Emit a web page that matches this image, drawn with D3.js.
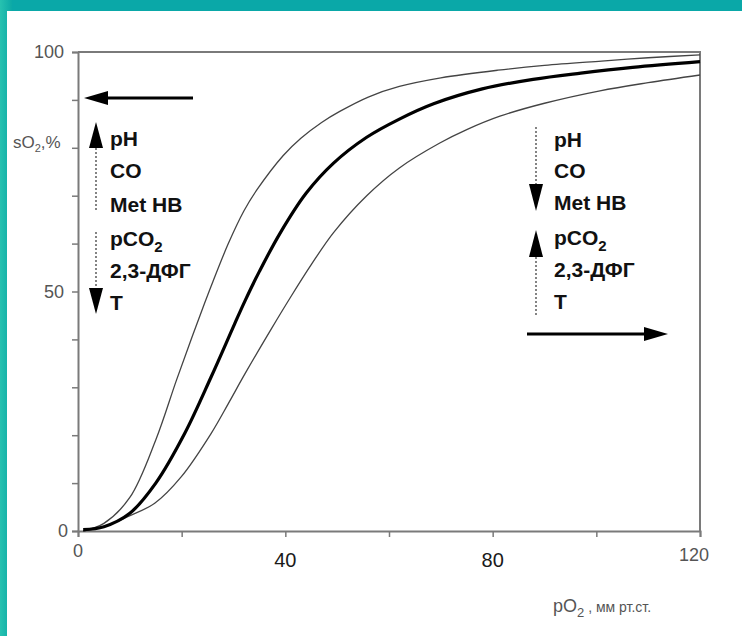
<!DOCTYPE html>
<html>
<head>
<meta charset="utf-8">
<script src="https://cdn.jsdelivr.net/npm/d3@7"></script>
<style>
  html, body { margin: 0; padding: 0; background: #0aa8a8; }
  svg { display: block; font-family: "Liberation Sans", Arial, sans-serif; }
</style>
</head>
<body>
<svg id="chart" width="742" height="636"></svg>
<script>
// oxyhemoglobin dissociation curves
var leftPO2 = [1, 5, 10, 15, 19, 22, 24.4, 26, 29, 32, 34.5, 39.6, 43, 47, 50.5, 56, 62, 70, 81, 90, 101, 110, 120];
var leftSO2 = [0, 1.6, 7, 19, 31.5, 40.5, 47.5, 52, 60, 66.8, 71.2, 78.4, 82, 85.3, 87.6, 90.6, 92.8, 94.6, 96.2, 97.2, 98.1, 98.8, 99.4];

var normPO2 = [1, 5, 10, 15, 20.6, 25.7, 30.2, 32.2, 35, 39, 44, 49.3, 55.7, 62, 68.6, 78, 87.8, 97, 107, 120];
var normSO2 = [0.3, 0.9, 3.7, 10, 20.4, 32.2, 43.2, 48, 54.2, 62.2, 70.5, 76.8, 82.2, 86, 89.2, 92.3, 94.3, 95.6, 96.8, 98];

var rightPO2 = [1, 5, 9.6, 14.8, 19.9, 25.7, 29, 32.2, 37.3, 41, 45, 49.3, 55.7, 62, 69.8, 75, 81.4, 90, 100.7, 110, 120];
var rightSO2 = [0, 0.9, 3, 5.8, 11.3, 20.4, 26.6, 32.8, 42.2, 48.8, 55.6, 62.3, 70, 75.8, 81, 83.8, 86.6, 89.3, 91.9, 93.6, 95.2];

var xTicks = [0, 20, 40, 60, 80, 100, 120];
var xLabels = [0, 40, 80, 120];
var yTicks = [0, 10, 20, 30, 40, 50, 60, 70, 80, 90, 100];
var yLabels = [0, 50, 100];

var factors = ['pH', 'CO', 'Met HB', 'pCO2', '2,3-ДФГ', 'T'];

var svg = d3.select('#chart');

// background: teal frame and white sheet
var defs = svg.append('defs');
var grad = defs.append('linearGradient').attr('id', 'edge')
  .attr('x1', 0).attr('x2', 1).attr('y1', 0).attr('y2', 0);
grad.append('stop').attr('offset', '0%').attr('stop-color', '#27c2b0');
grad.append('stop').attr('offset', '100%').attr('stop-color', '#0ca9a6');

svg.append('rect').attr('width', 742).attr('height', 636).attr('fill', '#0aa8a8');
svg.append('rect').attr('width', 12).attr('height', 636).attr('fill', 'url(#edge)');
svg.append('rect')
  .attr('x', 7).attr('y', 11)
  .attr('width', 735).attr('height', 625)
  .attr('fill', '#fff');

var margin = {left: 78, top: 52, right: 700, bottom: 531};

var x = d3.scaleLinear().domain([0, 120]).range([margin.left, margin.right]);
var y = d3.scaleLinear().domain([0, 100]).range([margin.bottom, margin.top]);

var axisColor = '#7a7a7a';

// frame top and right
svg.append('path')
  .attr('d', 'M' + x(0) + ',' + y(100) + 'H' + x(120) + 'V' + y(0))
  .attr('fill', 'none')
  .attr('stroke', axisColor)
  .attr('stroke-width', 2);

var xAxis = svg.append('g')
  .attr('transform', 'translate(0,' + y(0) + ')')
  .call(d3.axisBottom(x).tickValues(xTicks).tickSize(6).tickFormat(''));

var yAxis = svg.append('g')
  .attr('transform', 'translate(' + x(0) + ',0)')
  .call(d3.axisLeft(y).tickValues(yTicks).tickSize(6).tickFormat(''));

[xAxis, yAxis].forEach(function(a) {
  a.select('.domain').attr('stroke', axisColor).attr('stroke-width', 2);
  a.selectAll('.tick line').attr('stroke', axisColor).attr('stroke-width', 1.5);
});

// tick labels
svg.selectAll('.ylab')
  .data(yLabels)
  .enter().append('text')
  .attr('class', 'ylab')
  .attr('x', function(d) { return d === 0 ? 68 : 64; })
  .attr('y', function(d) { return y(d) + 6; })
  .attr('text-anchor', 'end')
  .attr('font-size', 18)
  .attr('fill', '#555')
  .text(function(d) { return d; });

svg.selectAll('.xlab')
  .data(xLabels)
  .enter().append('text')
  .attr('class', 'xlab')
  .attr('x', function(d) { return x(d) - (d === 120 ? 6 : 0); })
  .attr('y', function(d) { return (d === 40 || d === 80) ? 567 : (d === 0 ? 557 : 561); })
  .attr('text-anchor', 'middle')
  .attr('font-size', function(d) { return (d === 40 || d === 80) ? 20 : 18; })
  .attr('fill', function(d) { return (d === 40 || d === 80) ? '#1a1a1a' : '#555'; })
  .text(function(d) { return d; });

// axis titles
var yTitle = svg.append('text')
  .attr('x', 13).attr('y', 148)
  .attr('font-size', 17)
  .attr('fill', '#555');
yTitle.append('tspan').text('sO');
yTitle.append('tspan').attr('font-size', 11).attr('dy', 4).text('2');
yTitle.append('tspan').attr('dy', -4).text(',%');

var xTitle = svg.append('text')
  .attr('x', 553).attr('y', 612)
  .attr('font-size', 18)
  .attr('fill', '#555');
xTitle.append('tspan').text('pO');
xTitle.append('tspan').attr('font-size', 13).attr('dy', 5).text('2');
xTitle.append('tspan').attr('font-size', 14).attr('dy', -5).text(' , мм рт.ст.');

// curves
var line = d3.line()
  .x(function(d) { return x(d[0]); })
  .y(function(d) { return y(d[1]); })
  .curve(d3.curveCatmullRom.alpha(0.5));

function drawCurve(px, sy, width, color) {
  svg.append('path')
    .datum(d3.zip(px, sy))
    .attr('d', line)
    .attr('fill', 'none')
    .attr('stroke', color)
    .attr('stroke-width', width)
    .attr('stroke-linejoin', 'round');
}

drawCurve(leftPO2, leftSO2, 1.3, '#444');
drawCurve(rightPO2, rightSO2, 1.3, '#444');
drawCurve(normPO2, normSO2, 3.2, '#000');

// factor labels on both sides
function writeFactors(x0, rows) {
  var g = svg.append('g')
    .attr('font-size', 21)
    .attr('font-weight', 'bold')
    .attr('fill', '#111');
  factors.forEach(function(f, i) {
    var t = g.append('text').attr('x', x0).attr('y', rows[i]);
    if (f === 'pCO2') {
      t.append('tspan').text('pCO');
      t.append('tspan').attr('font-size', 15).attr('dy', 6).text('2');
    } else {
      t.text(f);
    }
  });
}

writeFactors(110, [146, 178, 212, 246, 278, 310]);
writeFactors(554, [147, 178, 210, 245, 277, 309]);

function dotted(xp, y1, y2) {
  svg.append('line')
    .attr('x1', xp).attr('x2', xp)
    .attr('y1', y1).attr('y2', y2)
    .attr('stroke', '#333')
    .attr('stroke-width', 1.2)
    .attr('stroke-dasharray', '2,2');
}

// vertical arrowhead, tip at (xp, tip), base at (xp, base)
function vHead(xp, tip, base) {
  svg.append('path')
    .attr('d', 'M' + xp + ',' + tip + 'L' + (xp + 7) + ',' + base +
      'L' + (xp - 7) + ',' + base + 'Z')
    .attr('fill', '#000');
}

// horizontal arrow
function hArrow(x1, x2, yp) {
  var dir = x2 > x1 ? 1 : -1;
  var baseX = x2 - dir * 24;
  svg.append('line')
    .attr('x1', x1).attr('x2', baseX)
    .attr('y1', yp).attr('y2', yp)
    .attr('stroke', '#000')
    .attr('stroke-width', 3.2);
  svg.append('path')
    .attr('d', 'M' + x2 + ',' + yp + 'L' + baseX + ',' + (yp - 7) +
      'L' + baseX + ',' + (yp + 7) + 'Z')
    .attr('fill', '#000');
}

// left group: shift left
hArrow(193, 84, 98);
vHead(96, 122, 148);
dotted(96, 148, 210);
dotted(96, 232, 288);
vHead(96, 314, 288);

// right group: shift right
dotted(536, 127, 184);
vHead(536, 211, 184);
vHead(536, 230, 257);
dotted(536, 257, 315);
hArrow(527, 668, 334);
</script>
</body>
</html>
